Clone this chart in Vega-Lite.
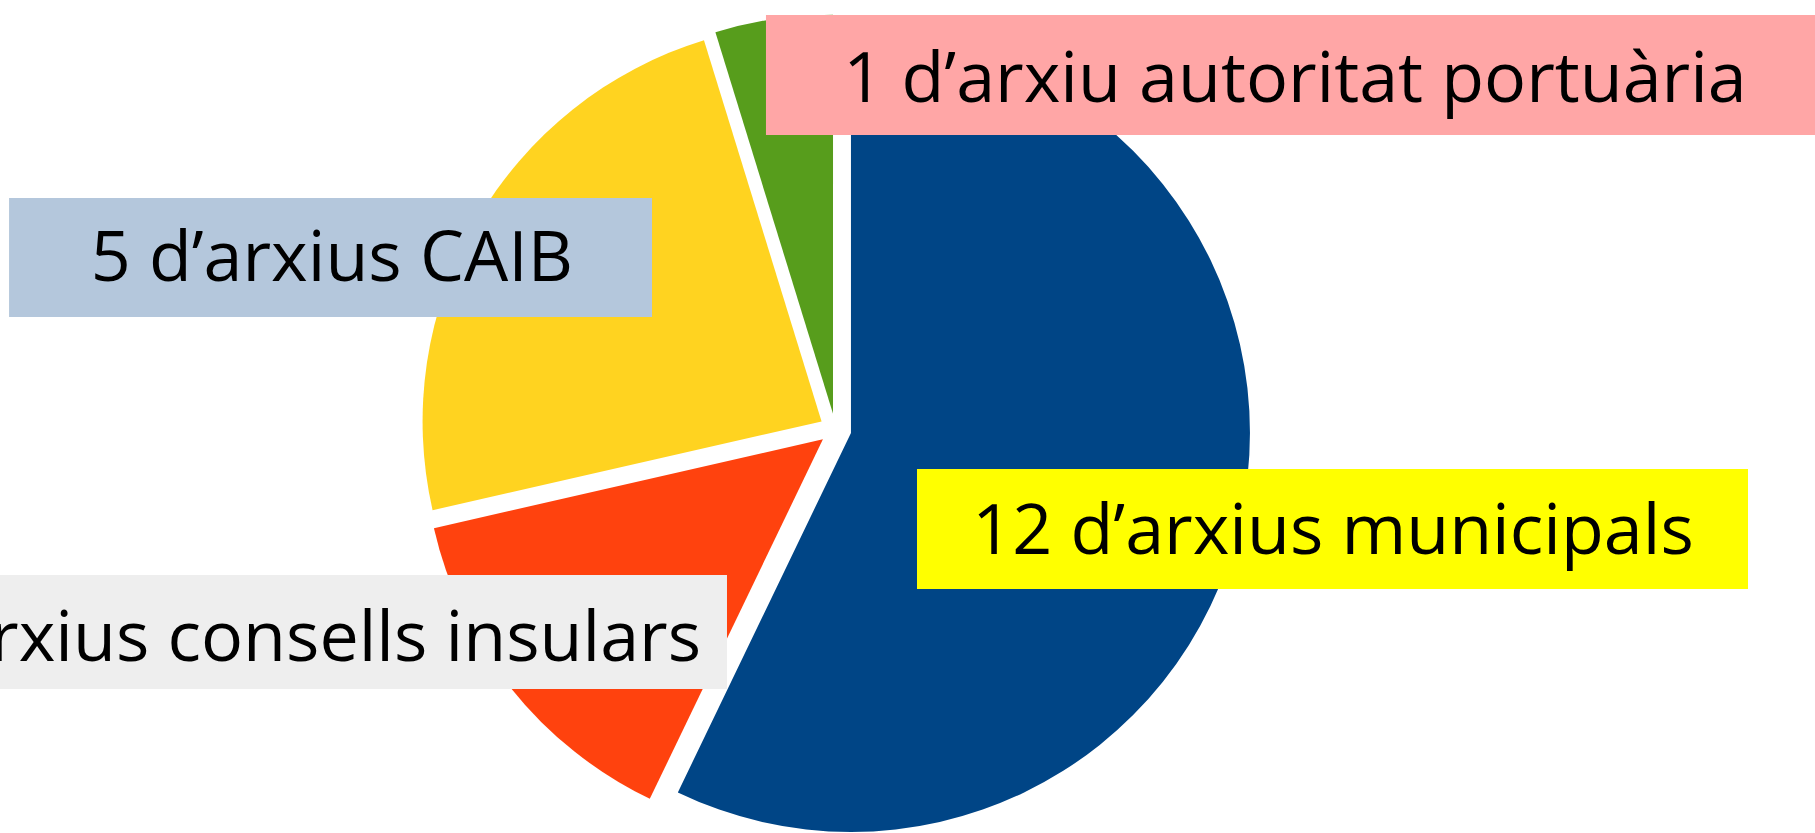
{
  "$schema": "https://vega.github.io/schema/vega-lite/v6.json",
  "width": 1815,
  "height": 833,
  "autosize": {"type": "none"},
  "padding": 0,
  "background": "#ffffff",
  "config": {"view": {"stroke": null}},
  "data": {
    "values": [
      {"category": "municipals", "value": 12, "order": 1, "label": "12 d’arxius municipals"},
      {"category": "consells insulars", "value": 3, "order": 2, "label": "3 d’arxius consells insulars"},
      {"category": "CAIB", "value": 5, "order": 3, "label": "5 d’arxius CAIB"},
      {"category": "autoritat portuària", "value": 1, "order": 4, "label": "1 d’arxiu autoritat portuària"}
    ]
  },
  "layer": [
    {
      "transform": [
        {"joinaggregate": [{"op": "sum", "field": "value", "as": "total"}]},
        {"window": [{"op": "sum", "field": "value", "as": "cum"}], "sort": [{"field": "order", "order": "ascending"}], "frame": [null, 0]},
        {"calculate": "2 * PI * (datum.cum - datum.value / 2) / datum.total", "as": "mid"},
        {"calculate": "0.04 * sin(datum.mid)", "as": "cx"},
        {"calculate": "0.04 * cos(datum.mid)", "as": "cy"}
      ],
      "mark": {"type": "arc", "radius": 399},
      "encoding": {
        "theta": {"field": "value", "type": "quantitative", "stack": true},
        "order": {"field": "order", "type": "quantitative"},
        "color": {
          "field": "category",
          "type": "nominal",
          "scale": {
            "domain": ["municipals", "consells insulars", "CAIB", "autoritat portuària"],
            "range": ["#004586", "#ff420e", "#ffd320", "#579d1c"]
          },
          "legend": null
        },
        "x": {"field": "cx", "type": "quantitative", "scale": {"domain": [-2.0937, 2.4551], "nice": false, "zero": false}, "axis": null},
        "y": {"field": "cy", "type": "quantitative", "scale": {"domain": [-1.0115, 1.0762], "nice": false, "zero": false}, "axis": null}
      }
    },
    {
      "transform": [{"filter": "datum.category === 'autoritat portuària'"}],
      "layer": [
        {
          "mark": {"type": "rect", "fill": "#ffa6a6"},
          "encoding": {
            "x": {"datum": -0.174, "type": "quantitative", "scale": {"domain": [-2.0937, 2.4551], "nice": false, "zero": false}, "axis": null},
            "x2": {"datum": 2.4551},
            "y": {"datum": 1.0386, "type": "quantitative", "scale": {"domain": [-1.0115, 1.0762], "nice": false, "zero": false}, "axis": null},
            "y2": {"datum": 0.7378}
          }
        },
        {
          "mark": {"type": "text", "font": "Open Sans", "fontSize": 70, "align": "center", "baseline": "alphabetic", "fill": "#000000"},
          "encoding": {
            "text": {"field": "label"},
            "x": {"datum": 1.1519, "type": "quantitative", "scale": {"domain": [-2.0937, 2.4551], "nice": false, "zero": false}, "axis": null},
            "y": {"datum": 0.8206, "type": "quantitative", "scale": {"domain": [-1.0115, 1.0762], "nice": false, "zero": false}, "axis": null}
          }
        }
      ]
    },
    {
      "transform": [{"filter": "datum.category === 'CAIB'"}],
      "layer": [
        {
          "mark": {"type": "rect", "fill": "#b4c7dc"},
          "encoding": {
            "x": {"datum": -2.071, "type": "quantitative", "scale": {"domain": [-2.0937, 2.4551], "nice": false, "zero": false}, "axis": null},
            "x2": {"datum": -0.4596},
            "y": {"datum": 0.5799, "type": "quantitative", "scale": {"domain": [-1.0115, 1.0762], "nice": false, "zero": false}, "axis": null},
            "y2": {"datum": 0.2817}
          }
        },
        {
          "mark": {"type": "text", "font": "Open Sans", "fontSize": 70, "align": "center", "baseline": "alphabetic", "fill": "#000000"},
          "encoding": {
            "text": {"field": "label"},
            "x": {"datum": -1.262, "type": "quantitative", "scale": {"domain": [-2.0937, 2.4551], "nice": false, "zero": false}, "axis": null},
            "y": {"datum": 0.3719, "type": "quantitative", "scale": {"domain": [-1.0115, 1.0762], "nice": false, "zero": false}, "axis": null}
          }
        }
      ]
    },
    {
      "transform": [{"filter": "datum.category === 'municipals'"}],
      "layer": [
        {
          "mark": {"type": "rect", "fill": "#ffff00"},
          "encoding": {
            "x": {"datum": 0.2045, "type": "quantitative", "scale": {"domain": [-2.0937, 2.4551], "nice": false, "zero": false}, "axis": null},
            "x2": {"datum": 2.2872},
            "y": {"datum": -0.0992, "type": "quantitative", "scale": {"domain": [-1.0115, 1.0762], "nice": false, "zero": false}, "axis": null},
            "y2": {"datum": -0.4}
          }
        },
        {
          "mark": {"type": "text", "font": "Open Sans", "fontSize": 70, "align": "center", "baseline": "alphabetic", "fill": "#000000"},
          "encoding": {
            "text": {"field": "label"},
            "x": {"datum": 1.2471, "type": "quantitative", "scale": {"domain": [-2.0937, 2.4551], "nice": false, "zero": false}, "axis": null},
            "y": {"datum": -0.3123, "type": "quantitative", "scale": {"domain": [-1.0115, 1.0762], "nice": false, "zero": false}, "axis": null}
          }
        }
      ]
    },
    {
      "transform": [{"filter": "datum.category === 'consells insulars'"}],
      "layer": [
        {
          "mark": {"type": "rect", "fill": "#eeeeee"},
          "encoding": {
            "x": {"datum": -2.0937, "type": "quantitative", "scale": {"domain": [-2.0937, 2.4551], "nice": false, "zero": false}, "axis": null},
            "x2": {"datum": -0.2717},
            "y": {"datum": -0.3649, "type": "quantitative", "scale": {"domain": [-1.0115, 1.0762], "nice": false, "zero": false}, "axis": null},
            "y2": {"datum": -0.6506}
          }
        },
        {
          "mark": {"type": "text", "font": "Open Sans", "fontSize": 70, "align": "right", "baseline": "alphabetic", "fill": "#000000", "clip": true},
          "encoding": {
            "text": {"field": "label"},
            "x": {"datum": -0.3368, "type": "quantitative", "scale": {"domain": [-2.0937, 2.4551], "nice": false, "zero": false}, "axis": null},
            "y": {"datum": -0.5805, "type": "quantitative", "scale": {"domain": [-1.0115, 1.0762], "nice": false, "zero": false}, "axis": null}
          }
        }
      ]
    }
  ]
}
